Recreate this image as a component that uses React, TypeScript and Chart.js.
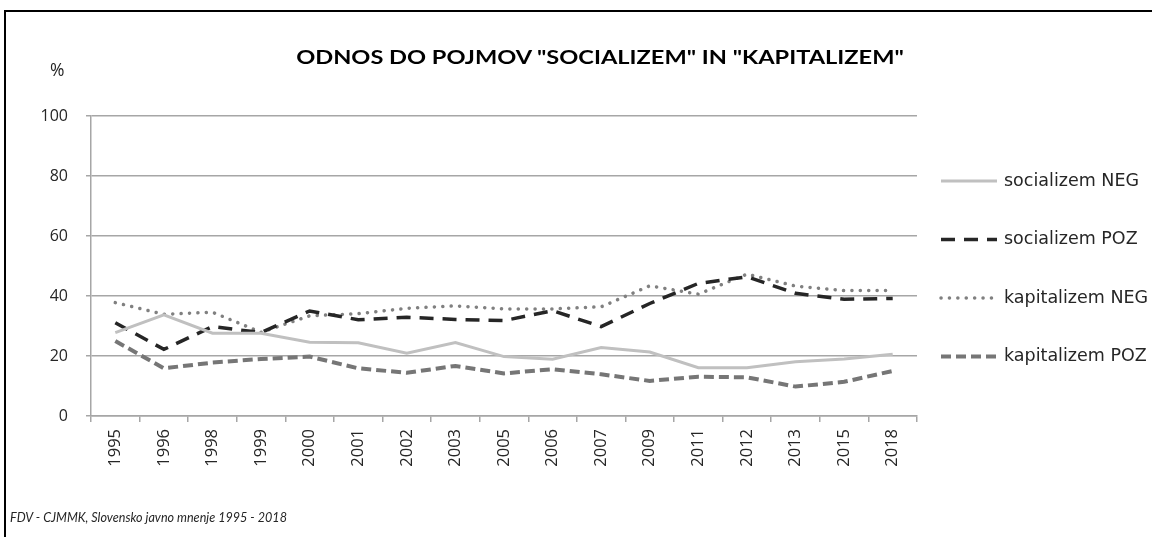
import React, { useEffect, useRef } from "react";
import { Chart, registerables } from "chart.js";

Chart.register(...registerables);

const years = ["1995", "1996", "1998", "1999", "2000", "2001", "2002", "2003", "2005", "2006", "2007", "2009", "2011", "2012", "2013", "2015", "2018"];
const socializemNEG = [27.8, 33.7, 27.6, 27.6, 24.6, 24.4, 20.9, 24.5, 19.8, 18.9, 22.8, 21.3, 16.1, 16.1, 18.1, 19.0, 20.6];
const socializemPOZ = [31.1, 22.2, 29.8, 27.8, 35.0, 32.1, 32.9, 32.2, 31.8, 35.1, 29.8, 37.5, 44.2, 46.4, 40.9, 38.9, 39.2];
const kapitalizemNEG = [37.8, 33.9, 34.6, 27.9, 33.4, 34.1, 35.9, 36.7, 35.7, 35.7, 36.4, 43.4, 40.6, 47.3, 43.3, 41.8, 41.8];
const kapitalizemPOZ = [25.0, 15.9, 17.8, 19.0, 19.8, 15.9, 14.4, 16.7, 14.2, 15.6, 13.9, 11.7, 13.1, 12.9, 9.8, 11.4, 15.0];
const seriesLabels = ["socializem NEG", "socializem POZ", "kapitalizem NEG", "kapitalizem POZ"];
const yTicks = [0, 20, 40, 60, 80, 100];

const TITLE = 'ODNOS DO POJMOV "SOCIALIZEM" IN "KAPITALIZEM"';
const FOOTER = "FDV - CJMMK, Slovensko javno mnenje 1995 - 2018";

const LATO = "Lato, 'Open Sans', sans-serif";
const TICK_FONT = "'Open Sans', sans-serif";
const LEGEND_FONT = "'DejaVu Sans', sans-serif";

const legendPlugin = {
  id: "customLegend",
  afterDraw(chart: any) {
    const ctx = chart.ctx;
    chart.data.datasets.forEach((ds: any, i: number) => {
      const y = 181 + i * 58.5;
      ctx.save();
      ctx.beginPath();
      ctx.strokeStyle = ds.borderColor;
      ctx.lineWidth = ds.borderWidth;
      ctx.lineCap = ds.borderCapStyle || "butt";
      ctx.setLineDash(ds.borderDash || []);
      ctx.moveTo(941, y);
      ctx.lineTo(997, y);
      ctx.stroke();
      ctx.setLineDash([]);
      ctx.fillStyle = "#262626";
      ctx.font = `17.5px ${LEGEND_FONT}`;
      ctx.textBaseline = "middle";
      ctx.textAlign = "left";
      ctx.fillText(ds.label, 1004, y);
      ctx.restore();
    });
  },
};

export default function App() {
  const ref = useRef<HTMLCanvasElement | null>(null);

  useEffect(() => {
    document.body.style.margin = "0";
    const canvas = ref.current;
    if (!canvas) return;
    const chart = new Chart(canvas, {
      type: "line",
      data: {
        labels: years,
        datasets: [
          {
            label: seriesLabels[0],
            data: socializemNEG,
            borderColor: "#c0c0c0",
            borderWidth: 3,
            pointRadius: 0,
            tension: 0,
          },
          {
            label: seriesLabels[1],
            data: socializemPOZ,
            borderColor: "#262626",
            borderWidth: 3.5,
            borderDash: [14, 9],
            pointRadius: 0,
            tension: 0,
          },
          {
            label: seriesLabels[2],
            data: kapitalizemNEG,
            borderColor: "#808080",
            borderWidth: 3.5,
            borderDash: [0.1, 8.3],
            borderCapStyle: "round",
            pointRadius: 0,
            tension: 0,
          },
          {
            label: seriesLabels[3],
            data: kapitalizemPOZ,
            borderColor: "#767676",
            borderWidth: 4,
            borderDash: [10, 5],
            pointRadius: 0,
            tension: 0,
          },
        ] as any,
      },
      options: {
        responsive: false,
        animation: false,
        layout: { padding: { left: 0, top: 116, right: 235, bottom: 0 } },
        plugins: {
          legend: { display: false },
          title: { display: false },
          tooltip: { enabled: false },
        },
        scales: {
          x: {
            offset: true,
            afterFit(scale: any) {
              scale.height = 121;
            },
            grid: {
              offset: true,
              drawOnChartArea: false,
              drawTicks: true,
              tickLength: 6,
              color: "#a6a6a6",
              lineWidth: 1.5,
            },
            border: { color: "#a6a6a6", width: 1.5 },
            ticks: {
              minRotation: 90,
              maxRotation: 90,
              autoSkip: false,
              padding: 7,
              color: "#262626",
              font: { family: TICK_FONT, size: 16.5 },
            },
          },
          y: {
            min: 0,
            max: 100,
            afterFit(scale: any) {
              scale.width = 91;
            },
            afterBuildTicks(scale: any) {
              scale.ticks = yTicks.map((v) => ({ value: v }));
            },
            grid: {
              color: "#a6a6a6",
              lineWidth: 1.5,
              drawTicks: true,
              tickLength: 5,
            },
            border: { color: "#a6a6a6", width: 1.5 },
            ticks: {
              padding: 18,
              color: "#262626",
              font: { family: TICK_FONT, size: 16 },
            },
          },
        },
      } as any,
      plugins: [legendPlugin],
    });
    return () => chart.destroy();
  }, []);

  return (
    <div style={{ position: "fixed", left: 0, top: 0, width: 1152, height: 537, background: "#fff", overflow: "hidden" }}>
      <canvas ref={ref} width={1152} height={537} style={{ position: "absolute", left: 0, top: 0 }} />
      <div
        style={{
          position: "absolute",
          left: 4,
          top: 10,
          width: 1200,
          height: 600,
          border: "2px solid #000",
          boxSizing: "border-box",
          pointerEvents: "none",
        }}
      />
      <div
        style={{
          position: "absolute",
          left: 0,
          width: 1200,
          top: 45,
          textAlign: "center",
          fontFamily: LATO,
          fontWeight: 700,
          fontSize: 19.5,
          color: "#000",
          whiteSpace: "nowrap",
          transform: "scaleX(1.21)",
          transformOrigin: "600px 50%",
        }}
      >
        {TITLE}
      </div>
      <div style={{ position: "absolute", left: 50, top: 57, fontFamily: TICK_FONT, fontSize: 17.5, color: "#262626" }}>%</div>
      <div
        style={{
          position: "absolute",
          left: 10,
          top: 510,
          fontFamily: LATO,
          fontStyle: "italic",
          fontSize: 12.6,
          color: "#262626",
          whiteSpace: "nowrap",
        }}
      >
        {FOOTER}
      </div>
    </div>
  );
}
